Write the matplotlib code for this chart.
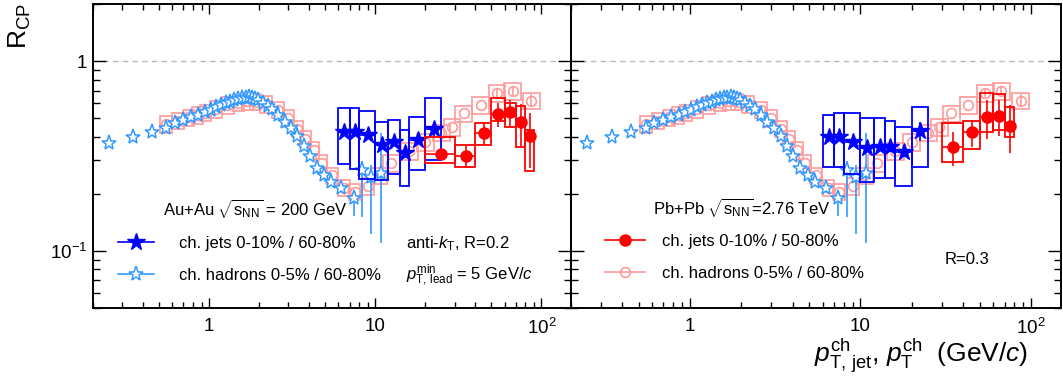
import numpy as np
import matplotlib
matplotlib.use('Agg')
import matplotlib.pyplot as plt
from matplotlib.patches import Rectangle
from matplotlib.lines import Line2D
from matplotlib.ticker import LogLocator, NullFormatter

plt.rcParams['font.family'] = ['Liberation Sans', 'DejaVu Sans']
plt.rcParams['mathtext.fontset'] = 'custom'
plt.rcParams['mathtext.rm'] = 'Liberation Sans'
plt.rcParams['mathtext.it'] = 'Liberation Sans:italic'
plt.rcParams['mathtext.bf'] = 'Liberation Sans:bold'

# STAR charged hadrons, Au+Au 0-5% / 60-80%
star_had_pt = [0.25, 0.35, 0.45, 0.55, 0.62, 0.70, 0.78, 0.86, 0.94, 1.02, 1.10, 1.18,
               1.26, 1.34, 1.42, 1.50, 1.58, 1.66, 1.74, 1.82, 1.90, 1.98, 2.10, 2.25,
               2.40, 2.60, 2.85, 3.10, 3.40, 3.70, 4.05, 4.45, 4.90, 5.45, 6.25, 7.4,
               8.3, 9.4, 10.8]
star_had_rcp = [0.370, 0.397, 0.421, 0.445, 0.470, 0.487, 0.510, 0.523, 0.537, 0.552, 0.570, 0.585,
                0.598, 0.612, 0.622, 0.632, 0.638, 0.643, 0.644, 0.640, 0.634, 0.622, 0.604, 0.580,
                0.557, 0.518, 0.478, 0.443, 0.402, 0.355, 0.315, 0.275, 0.250, 0.232, 0.214, 0.189,
                0.267, 0.244, 0.257]
star_had_elo = [0.0] * 35 + [0.037, 0.117, 0.122, 0.147]
star_had_ehi = [0.0] * 35 + [0.020, 0.030, 0.040, 0.160]

# ALICE charged hadrons, Pb+Pb 0-5% / 60-80%
alice_had_pt = [0.55, 0.65, 0.75, 0.85, 0.95, 1.1, 1.3, 1.5, 1.7, 1.9, 2.2, 2.6, 3.0, 3.4,
                3.8, 4.25, 4.75, 5.5, 6.5, 7.5, 9.0, 10.5, 12.5, 16.0, 20.0, 25.0, 29.0,
                34.0, 43.0, 54.0, 67.0, 87.0]
alice_had_rcp = [0.465, 0.485, 0.505, 0.520, 0.535, 0.560, 0.585, 0.605, 0.615, 0.612, 0.595,
                 0.555, 0.500, 0.440, 0.390, 0.340, 0.290, 0.250, 0.215, 0.205, 0.220, 0.250,
                 0.290, 0.335, 0.375, 0.420, 0.450, 0.530, 0.585, 0.680, 0.695, 0.620]
alice_had_err = [0.0] * 29 + [0.030, 0.040, 0.050]

# STAR charged jets, 0-10% / 60-80%
star_jet_edges = [6, 7, 8, 10, 12, 14, 16, 20, 25]
star_jet_r02 = [0.425, 0.425, 0.408, 0.361, 0.376, 0.327, 0.384, 0.437]
star_jet_r02_lo = [0.286, 0.269, 0.239, 0.236, 0.253, 0.221, 0.267, 0.301]
star_jet_r02_hi = [0.564, 0.564, 0.546, 0.479, 0.489, 0.433, 0.509, 0.637]
star_jet_r02_err = [0.015, 0.015, 0.015, 0.015, 0.015, 0.02, 0.02, 0.04]
star_jet_r03 = [0.397, 0.397, 0.376, 0.347, 0.351, 0.351, 0.333, 0.430]
star_jet_r03_lo = [0.276, 0.278, 0.253, 0.230, 0.243, 0.241, 0.220, 0.276]
star_jet_r03_hi = [0.520, 0.535, 0.531, 0.503, 0.499, 0.483, 0.451, 0.571]
star_jet_r03_err = [0.015, 0.015, 0.015, 0.015, 0.015, 0.02, 0.02, 0.05]

# ALICE charged jets, 0-10% / 50-80%
alice_jet_r02_edges = [20, 30, 40, 50, 60, 70, 80, 90]
alice_jet_r02 = [0.324, 0.318, 0.420, 0.524, 0.537, 0.476, 0.405]
alice_jet_r02_lo = [0.291, 0.276, 0.361, 0.483, 0.451, 0.354, 0.265]
alice_jet_r02_hi = [0.400, 0.361, 0.474, 0.637, 0.599, 0.580, 0.433]
alice_jet_r02_err = [0.02, 0.045, 0.06, 0.075, 0.09, 0.12, 0.13]
alice_jet_r03_edges = [30, 40, 50, 60, 70, 80]
alice_jet_r03 = [0.351, 0.421, 0.505, 0.513, 0.456]
alice_jet_r03_lo = [0.295, 0.343, 0.425, 0.433, 0.400]
alice_jet_r03_hi = [0.470, 0.483, 0.676, 0.668, 0.575]
alice_jet_r03_err = [0.072, 0.07, 0.118, 0.11, 0.128]

STAR_JET = '#0000ff'
STAR_HAD = '#3399ff'
ALICE_JET = '#ff0000'
ALICE_HAD = '#ff9a9a'


def draw_boxes(ax, x0, x1, lo, hi, color, lw, z):
    for a, b, c, d in zip(x0, x1, lo, hi):
        ax.add_patch(Rectangle((a, c), b - a, d - c, fill=False, ec=color, lw=lw, zorder=z))


def draw_panel(ax, sj, sj_lo, sj_hi, sj_err, aj_edges, aj, aj_lo, aj_hi, aj_err):
    ax.set_xscale('log')
    ax.set_yscale('log')
    ax.set_xlim(0.2, 150)
    ax.set_ylim(0.05, 2.0)
    ax.axhline(1.0, color='#bbbbbb', ls=(0, (4, 3)), lw=1.0, zorder=1)

    # ALICE hadrons
    apt = np.array(alice_had_pt)
    arc = np.array(alice_had_rcp)
    hw = np.where(apt < 10, 0.035, 0.05)
    draw_boxes(ax, apt * 10 ** -hw, apt * 10 ** hw, arc * 0.9, arc * 1.1, ALICE_HAD, 1.2, 2)
    ax.errorbar(apt, arc, yerr=alice_had_err, fmt='o', ms=7, mfc='none', mec=ALICE_HAD,
                mew=1.2, ecolor=ALICE_HAD, elinewidth=1.2, capsize=0, zorder=2.5)

    # STAR hadrons
    ax.errorbar(star_had_pt, star_had_rcp, yerr=[star_had_elo, star_had_ehi], fmt='*',
                ms=11, mfc='white', mec=STAR_HAD, mew=1.1, ecolor=STAR_HAD,
                elinewidth=1.2, capsize=0, zorder=3)

    # STAR jets
    e = np.array(star_jet_edges, dtype=float)
    c = 0.5 * (e[:-1] + e[1:])
    draw_boxes(ax, e[:-1], e[1:], sj_lo, sj_hi, STAR_JET, 1.3, 4)
    ax.errorbar(c, sj, xerr=[c - e[:-1], e[1:] - c], yerr=sj_err, fmt='*', ms=13,
                color=STAR_JET, elinewidth=1.2, capsize=0, zorder=5)

    # ALICE jets
    e = np.array(aj_edges, dtype=float)
    c = 0.5 * (e[:-1] + e[1:])
    draw_boxes(ax, e[:-1], e[1:], aj_lo, aj_hi, ALICE_JET, 1.3, 6)
    ax.errorbar(c, aj, xerr=[c - e[:-1], e[1:] - c], yerr=aj_err, fmt='o', ms=8,
                color=ALICE_JET, elinewidth=1.2, capsize=0, zorder=7)

    ax.set_xticks([1, 10, 100], ['1', '10', '$10^{2}$'])
    ax.xaxis.set_minor_locator(LogLocator(base=10, subs=np.arange(2, 10), numticks=20))
    ax.xaxis.set_minor_formatter(NullFormatter())
    ax.set_yticks([0.1, 1], ['$10^{-1}$', '1'])
    ax.yaxis.set_minor_locator(LogLocator(base=10, subs=np.arange(2, 10), numticks=20))
    ax.yaxis.set_minor_formatter(NullFormatter())
    ax.tick_params(which='both', direction='in', top=True, right=True, width=1.0,
                   labelsize=13.5, colors='black')
    ax.tick_params(axis='x', which='major', length=7.5, pad=7)
    ax.tick_params(axis='x', which='minor', length=4)
    ax.tick_params(axis='y', which='major', length=9.5, pad=4)
    ax.tick_params(axis='y', which='minor', length=5)
    for s in ax.spines.values():
        s.set_linewidth(1.4)


fig = plt.figure(figsize=(10.63, 3.81), dpi=100)
axL = fig.add_axes([93 / 1063, 73 / 381, 477.7 / 1063, 304 / 381])
axR = fig.add_axes([570.7 / 1063, 73 / 381, 490.3 / 1063, 304 / 381])

draw_panel(axL, star_jet_r02, star_jet_r02_lo, star_jet_r02_hi, star_jet_r02_err,
           alice_jet_r02_edges, alice_jet_r02, alice_jet_r02_lo, alice_jet_r02_hi, alice_jet_r02_err)
draw_panel(axR, star_jet_r03, star_jet_r03_lo, star_jet_r03_hi, star_jet_r03_err,
           alice_jet_r03_edges, alice_jet_r03, alice_jet_r03_lo, alice_jet_r03_hi, alice_jet_r03_err)
axR.tick_params(axis='y', labelleft=False)

# legends and labels
h_sj = Line2D([], [], color=STAR_JET, marker='*', ms=13, lw=1.2)
h_sh = Line2D([], [], color=STAR_HAD, marker='*', ms=11, mfc='white', mew=1.1, lw=1.2)
axL.legend([h_sj, h_sh], ['ch. jets 0-10% / 60-80%', 'ch. hadrons 0-5% / 60-80%'],
           loc='upper left', bbox_to_anchor=(0.052, 0.238), frameon=False, fontsize=12,
           handlelength=2.15, handletextpad=1.5, labelspacing=1.05, borderpad=0, borderaxespad=0)
h_aj = Line2D([], [], color=ALICE_JET, marker='o', ms=8, lw=1.2)
h_ah = Line2D([], [], color=ALICE_HAD, marker='o', ms=7, mfc='none', mew=1.2, lw=1.2)
axR.legend([h_aj, h_ah], ['ch. jets 0-10% / 50-80%', 'ch. hadrons 0-5% / 60-80%'],
           loc='upper left', bbox_to_anchor=(0.070, 0.245), frameon=False, fontsize=12,
           handlelength=2.4, handletextpad=1.0, labelspacing=1.05, borderpad=0, borderaxespad=0)

axL.text(0.1465, 0.326, r'Au+Au $\sqrt{\mathrm{s}_{\mathrm{NN}}}$ = 200 GeV', transform=axL.transAxes,
         fontsize=12, ha='left', va='center')
axL.text(0.656, 0.211, r'anti-$k_{\mathrm{T}}$, R=0.2', transform=axL.transAxes,
         fontsize=12, ha='left', va='center')
axL.text(0.656, 0.109, r'$p_{\mathrm{T,\,lead}}^{\mathrm{min}}$ = 5 GeV/$c$', transform=axL.transAxes,
         fontsize=12, ha='left', va='center')
axR.text(0.167, 0.329, r'Pb+Pb $\sqrt{\mathrm{s}_{\mathrm{NN}}}$=2.76 TeV', transform=axR.transAxes,
         fontsize=12, ha='left', va='center')
axR.text(0.763, 0.158, 'R=0.3', transform=axR.transAxes, fontsize=12, ha='left', va='center')

fig.text(20 / 1063, 1 - 3 / 381, r'R$_{\mathrm{CP}}$', rotation=90, fontsize=19,
         ha='center', va='top')
fig.text(1028 / 1063, 25 / 381,
         r'$p_{\mathrm{T,\,jet}}^{\mathrm{ch}}$, $p_{\mathrm{T}}^{\mathrm{ch}}$  (GeV/$c$)',
         fontsize=19, ha='right', va='center')

fig.savefig('out.png', dpi=100)
plt.close(fig)
